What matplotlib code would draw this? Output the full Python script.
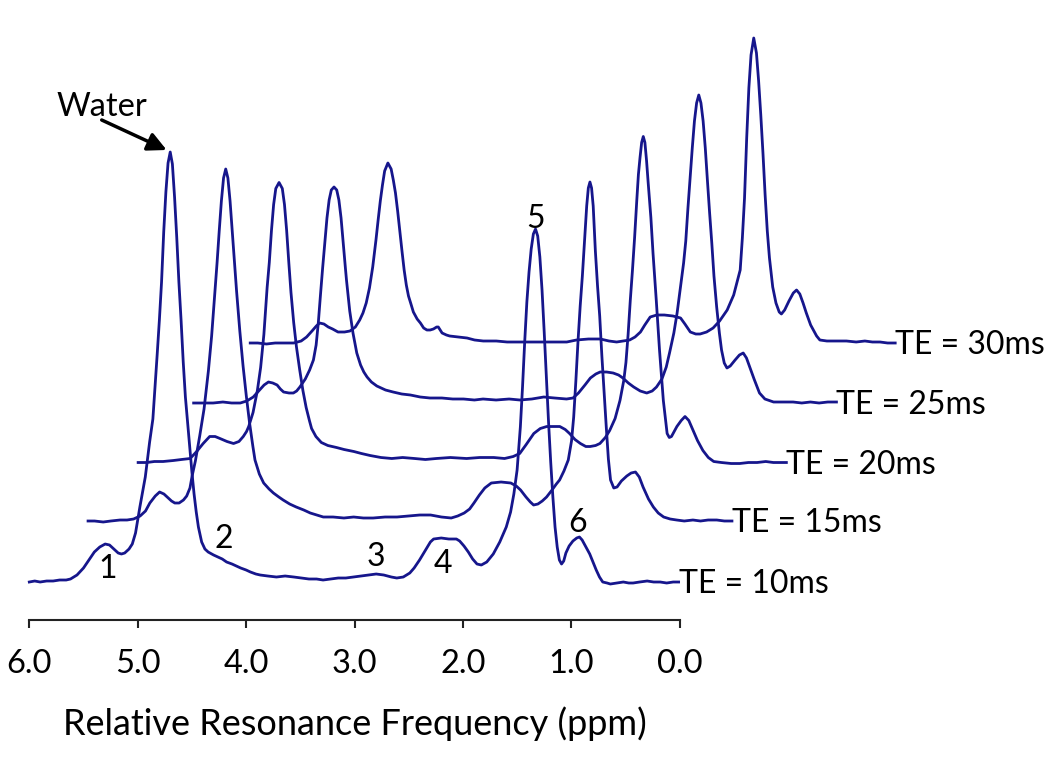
import matplotlib
matplotlib.use('Agg')
import matplotlib.pyplot as plt

plt.rcParams['font.family'] = ['Lato', 'DejaVu Sans']

# spectra as (ppm, signal) pairs, each in its own ppm frame
te10 = [(6.00, 0), (5.95, 1), (5.90, 0), (5.84, 1), (5.78, 1), (5.72, 2), (5.66, 2), (5.62, 3),
        (5.56, 7), (5.50, 14), (5.45, 22), (5.40, 30), (5.35, 35), (5.30, 38), (5.26, 37),
        (5.22, 33), (5.18, 29), (5.15, 28), (5.12, 29), (5.08, 33), (5.05, 38), (5.02, 49),
        (4.98, 75), (4.93, 105), (4.89, 140), (4.86, 163), (4.84, 195), (4.82, 228), (4.80, 262),
        (4.78, 300), (4.76, 350), (4.74, 390), (4.72, 419), (4.70, 430), (4.68, 418), (4.66, 385),
        (4.64, 345), (4.62, 300), (4.60, 262), (4.58, 220), (4.56, 185), (4.54, 160), (4.52, 135),
        (4.50, 110), (4.48, 88), (4.46, 70), (4.44, 55), (4.41, 40), (4.38, 33), (4.35, 30),
        (4.30, 27), (4.26, 25), (4.22, 23), (4.18, 20), (4.13, 18), (4.09, 16), (4.05, 14),
        (4.00, 12), (3.96, 10), (3.91, 8), (3.87, 7), (3.80, 6), (3.72, 5), (3.64, 6), (3.56, 5),
        (3.49, 4), (3.42, 3), (3.35, 3), (3.29, 2), (3.22, 3), (3.15, 4), (3.08, 4), (3.01, 5),
        (2.94, 6), (2.87, 7), (2.80, 8), (2.73, 7), (2.66, 5), (2.61, 4), (2.55, 5), (2.49, 9),
        (2.45, 14), (2.40, 22), (2.35, 31), (2.30, 40), (2.27, 43), (2.20, 44), (2.13, 43),
        (2.06, 43), (2.03, 41), (1.99, 36), (1.95, 30), (1.91, 23), (1.87, 18), (1.83, 17),
        (1.78, 20), (1.72, 28), (1.66, 40), (1.60, 55), (1.56, 70), (1.53, 88), (1.50, 112),
        (1.47, 155), (1.45, 195), (1.43, 240), (1.41, 280), (1.39, 310), (1.37, 333), (1.35, 348),
        (1.33, 353), (1.31, 346), (1.29, 325), (1.27, 292), (1.25, 250), (1.23, 205), (1.21, 160),
        (1.19, 120), (1.17, 85), (1.15, 55), (1.13, 35), (1.11, 22), (1.09, 18), (1.07, 21),
        (1.05, 29), (1.02, 36), (0.985, 41), (0.95, 44), (0.925, 45), (0.90, 42), (0.87, 36),
        (0.83, 28), (0.80, 20), (0.77, 12), (0.74, 5), (0.71, 0), (0.67, -1), (0.64, -2),
        (0.58, -1), (0.52, 0), (0.47, -1), (0.43, -1), (0.37, 0), (0.30, 1), (0.24, 0), (0.18, 0),
        (0.12, -1), (0.06, 0), (0.01, 0)]

te15 = [(5.96, 0), (5.90, 0), (5.82, -1), (5.75, 0), (5.665, 1), (5.60, 1), (5.54, 2), (5.48, 5),
        (5.43, 10), (5.39, 18), (5.34, 25), (5.30, 29), (5.26, 27), (5.23, 24), (5.19, 20),
        (5.16, 18), (5.12, 18), (5.08, 21), (5.05, 25), (5.02, 33), (5.00, 45), (4.97, 60),
        (4.93, 85), (4.89, 112), (4.85, 150), (4.82, 185), (4.79, 228), (4.77, 258), (4.75, 290),
        (4.73, 320), (4.71, 343), (4.69, 352), (4.67, 343), (4.65, 320), (4.63, 290), (4.61, 260),
        (4.59, 230), (4.56, 190), (4.53, 155), (4.50, 125), (4.47, 98), (4.44, 75), (4.42, 61),
        (4.38, 47), (4.34, 38), (4.29, 32), (4.25, 28), (4.20, 24), (4.16, 21), (4.10, 17),
        (4.04, 14), (3.97, 11), (3.91, 8), (3.85, 6), (3.79, 4), (3.70, 4), (3.60, 3), (3.51, 4),
        (3.42, 3), (3.33, 3), (3.22, 4), (3.11, 4), (3.00, 5), (2.90, 6), (2.80, 6), (2.70, 4),
        (2.61, 3), (2.55, 5), (2.49, 8), (2.44, 12), (2.40, 18), (2.35, 26), (2.30, 33),
        (2.24, 38), (2.15, 39), (2.06, 38), (2.01, 35), (1.97, 31), (1.92, 24), (1.88, 19),
        (1.85, 16), (1.81, 17), (1.77, 20), (1.73, 24), (1.68, 31), (1.64, 37), (1.61, 41),
        (1.57, 50), (1.53, 61), (1.50, 80), (1.48, 104), (1.46, 140), (1.44, 180), (1.42, 215),
        (1.40, 245), (1.38, 280), (1.36, 315), (1.345, 333), (1.33, 339), (1.315, 333), (1.30, 315),
        (1.28, 270), (1.26, 235), (1.24, 205), (1.22, 165), (1.20, 130), (1.18, 95), (1.16, 62),
        (1.14, 41), (1.11, 33), (1.08, 34), (1.04, 40), (0.99, 45), (0.95, 48), (0.91, 49),
        (0.875, 44), (0.84, 34), (0.79, 22), (0.745, 14), (0.70, 8), (0.65, 4), (0.59, 2),
        (0.53, 1), (0.46, 0), (0.38, 1), (0.31, 0), (0.24, 1), (0.16, 1), (0.09, 0), (0.02, 0)]

te20 = [(6.00, 0), (5.92, 0), (5.85, 1), (5.77, 1), (5.675, 2), (5.60, 3), (5.52, 4), (5.46, 11),
        (5.40, 19), (5.34, 26), (5.29, 26), (5.245, 24), (5.18, 21), (5.12, 19), (5.07, 21),
        (5.03, 26), (5.00, 31), (4.98, 36), (4.94, 50), (4.90, 72), (4.87, 95), (4.84, 128),
        (4.81, 175), (4.79, 200), (4.77, 232), (4.75, 258), (4.73, 274), (4.70, 280), (4.67, 274),
        (4.65, 258), (4.63, 232), (4.61, 200), (4.59, 170), (4.565, 140), (4.54, 116), (4.51, 93),
        (4.48, 72), (4.45, 55), (4.42, 42), (4.40, 34), (4.36, 26), (4.31, 20), (4.25, 17),
        (4.17, 15), (4.10, 13), (4.01, 11), (3.94, 9), (3.86, 7), (3.76, 5), (3.66, 4), (3.56, 5),
        (3.45, 4), (3.35, 3), (3.25, 4), (3.12, 5), (2.97, 4), (2.85, 5), (2.72, 5), (2.62, 4),
        (2.54, 6), (2.48, 9), (2.42, 18), (2.35, 29), (2.29, 34), (2.23, 36), (2.11, 36),
        (2.06, 33), (2.02, 29), (1.97, 23), (1.92, 19), (1.87, 16), (1.83, 16), (1.78, 17),
        (1.74, 19), (1.69, 25), (1.65, 32), (1.60, 44), (1.555, 62), (1.52, 82), (1.50, 100),
        (1.48, 128), (1.46, 162), (1.44, 192), (1.42, 225), (1.40, 262), (1.385, 288), (1.37, 305),
        (1.355, 320), (1.34, 326), (1.325, 320), (1.31, 302), (1.295, 280), (1.27, 245),
        (1.25, 209), (1.22, 162), (1.19, 112), (1.155, 62), (1.12, 29), (1.10, 25), (1.08, 26),
        (1.06, 30), (1.03, 36), (0.99, 42), (0.955, 46), (0.92, 42), (0.88, 32), (0.84, 22),
        (0.79, 12), (0.74, 5), (0.69, 1), (0.62, 0), (0.53, -1), (0.45, -1), (0.37, 0), (0.29, 0),
        (0.21, 1), (0.14, 0), (0.07, 0), (0.02, 0)]

te25 = [(5.99, 0), (5.90, 0), (5.81, 0), (5.72, 1), (5.64, 0), (5.56, 0), (5.50, 2), (5.44, 6),
        (5.39, 12), (5.34, 18), (5.30, 21), (5.26, 20), (5.22, 18), (5.19, 14), (5.16, 11),
        (5.11, 10), (5.07, 10), (5.04, 12), (5.01, 16), (4.96, 24), (4.92, 33), (4.885, 43),
        (4.86, 58), (4.84, 80), (4.82, 108), (4.80, 135), (4.78, 160), (4.76, 185), (4.74, 203),
        (4.72, 213), (4.695, 216), (4.67, 213), (4.65, 203), (4.63, 185), (4.61, 160), (4.59, 135),
        (4.58, 123), (4.55, 92), (4.52, 70), (4.485, 50), (4.45, 38), (4.42, 31), (4.39, 26),
        (4.35, 21), (4.30, 17), (4.22, 13), (4.15, 11), (4.07, 9), (3.99, 8), (3.90, 6), (3.81, 5),
        (3.70, 5), (3.60, 4), (3.50, 4), (3.40, 3), (3.32, 4), (3.20, 3), (3.08, 4), (2.98, 3),
        (2.87, 4), (2.76, 6), (2.66, 5), (2.55, 4), (2.49, 5), (2.44, 10), (2.38, 18), (2.33, 25),
        (2.28, 29), (2.24, 31), (2.18, 31), (2.12, 30), (2.07, 28), (2.03, 25), (1.98, 20),
        (1.93, 16), (1.87, 12), (1.81, 10), (1.76, 12), (1.72, 16), (1.67, 24), (1.63, 36),
        (1.60, 50), (1.56, 70), (1.53, 90), (1.50, 115), (1.47, 140), (1.45, 162), (1.43, 195),
        (1.41, 225), (1.39, 255), (1.37, 282), (1.35, 300), (1.33, 308), (1.31, 300), (1.29, 282),
        (1.27, 255), (1.25, 222), (1.23, 190), (1.21, 160), (1.19, 127), (1.165, 96), (1.14, 70),
        (1.12, 53), (1.095, 40), (1.07, 35), (1.04, 37), (0.995, 43), (0.955, 48), (0.92, 50),
        (0.89, 45), (0.86, 36), (0.82, 24), (0.77, 10), (0.72, 4), (0.64, 1), (0.55, 1),
        (0.46, 1), (0.38, 0), (0.30, 1), (0.22, 0), (0.14, 1), (0.06, 1)]

te30 = [(5.97, 0), (5.90, 0), (5.82, -1), (5.74, 0), (5.66, 0), (5.57, 0), (5.50, 2), (5.45, 6),
        (5.40, 12), (5.36, 17), (5.33, 20), (5.29, 19), (5.25, 16), (5.21, 14), (5.16, 11),
        (5.10, 11), (5.05, 12), (5.00, 16), (4.96, 23), (4.93, 30), (4.90, 40), (4.87, 55),
        (4.84, 76), (4.81, 103), (4.79, 123), (4.77, 142), (4.75, 158), (4.73, 172), (4.70, 180),
        (4.67, 174), (4.65, 163), (4.63, 150), (4.61, 132), (4.59, 112), (4.57, 92), (4.55, 73),
        (4.53, 58), (4.51, 47), (4.49, 40), (4.465, 31), (4.43, 24), (4.40, 20), (4.37, 15),
        (4.34, 13), (4.31, 13), (4.28, 14), (4.25, 16), (4.235, 16), (4.20, 10), (4.16, 8),
        (4.13, 7), (4.05, 6), (3.97, 5), (3.90, 3), (3.82, 2), (3.70, 2), (3.60, 1), (3.51, 1),
        (3.40, 1), (3.28, 1), (3.16, 1), (3.05, 1), (2.96, 3), (2.85, 4), (2.74, 4), (2.66, 2),
        (2.59, 1), (2.53, 2), (2.47, 3), (2.42, 6), (2.37, 11), (2.33, 18), (2.28, 26), (2.22, 28),
        (2.15, 28), (2.07, 27), (2.00, 25), (1.96, 19), (1.91, 11), (1.86, 9), (1.82, 9),
        (1.76, 11), (1.70, 15), (1.64, 22), (1.57, 33), (1.51, 48), (1.45, 73), (1.43, 105),
        (1.41, 145), (1.39, 205), (1.37, 255), (1.35, 288), (1.325, 305), (1.30, 290), (1.28, 262),
        (1.26, 228), (1.24, 190), (1.22, 148), (1.20, 112), (1.18, 85), (1.15, 56), (1.12, 40),
        (1.09, 31), (1.07, 29), (1.04, 33), (1.00, 42), (0.96, 50), (0.93, 53), (0.90, 49),
        (0.87, 40), (0.84, 30), (0.80, 18), (0.775, 13), (0.745, 7), (0.715, 3), (0.65, 2),
        (0.56, 2), (0.47, 2), (0.38, 1), (0.30, 2), (0.23, 1), (0.16, 1), (0.09, 0), (0.02, 0)]

te_labels = ['TE = 10ms', 'TE = 15ms', 'TE = 20ms', 'TE = 25ms', 'TE = 30ms']
spectra = [te10, te15, te20, te25, te30]

peak_names = ['1', '2', '3', '4', '5', '6']
peak_ppm = [5.28, 4.21, 2.80, 2.18, 1.326, 0.94]
peak_sig = [4, 34, 16, 9, 354, 50]

# stacking: each later echo time is moved right and lifted
ppm_step = 0.502
lift = [0, 61, 119.5, 179, 239]

line_color = '#16168c'

fig = plt.figure(figsize=(10.5, 7.68), dpi=100)
ax = fig.add_axes([0, 0.1927, 1, 0.8073])

for i, spec in enumerate(spectra):
    x = [p - i * ppm_step for p, s in spec]
    y = [s + lift[i] for p, s in spec]
    ax.plot(x, y, color=line_color, lw=2.0, solid_joinstyle='round')
    ax.text(x[-1], lift[i] - 11, te_labels[i], ha='left', va='baseline', fontsize=23)

for name, p, s in zip(peak_names, peak_ppm, peak_sig):
    ax.text(p, s, name, ha='center', va='baseline', fontsize=23)

ax.text(5.332, 466, 'Water', ha='center', va='baseline', fontsize=23.5)
ax.annotate('', xy=(4.733, 432), xytext=(5.332, 462),
            arrowprops=dict(arrowstyle='-|>', color='black', lw=2.5,
                            mutation_scale=28, shrinkA=0, shrinkB=0))

ax.set_xlim(6.2703, -3.416)
ax.set_ylim(-38, 582)
for side in ['top', 'right', 'left']:
    ax.spines[side].set_visible(False)
ax.spines['bottom'].set_bounds(0, 6)
ax.spines['bottom'].set_linewidth(1.5)
ax.spines['bottom'].set_color('#222222')
ticks = [6, 5, 4, 3, 2, 1, 0]
ax.set_xticks(ticks)
ax.set_xticklabels([f'{t:.1f}' for t in ticks], fontsize=23.5)
ax.tick_params(axis='x', direction='out', length=6, width=1.5, color='#222222', pad=15)
ax.set_yticks([])

fig.text(355 / 1050, 1 - 735 / 768, 'Relative Resonance Frequency (ppm)',
         ha='center', va='baseline', fontsize=26)

fig.savefig('out.png', dpi=100)
